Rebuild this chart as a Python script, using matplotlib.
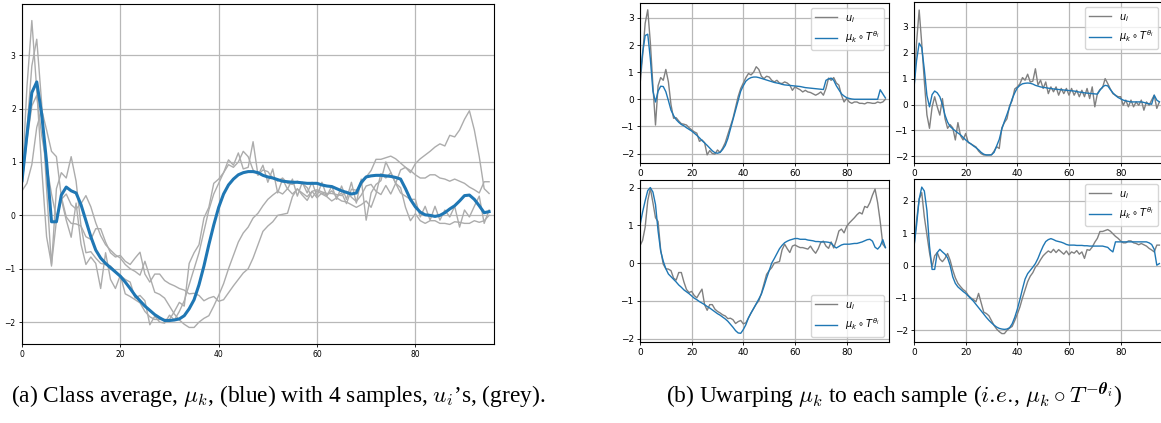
import numpy as np
import matplotlib
matplotlib.use("Agg")
import matplotlib.pyplot as plt

# sample index (time axis)
t = np.arange(96)

# four samples u_i (grey)
u1 = [0.52, 1.6, 2.8, 3.3, 2.1, 0.5, -0.95, 0.5, 0.8, 0.7,
      1.1, 0.64, -0.2, -0.7, -0.68, -0.8, -0.9, -0.92, -0.95, -1.05,
      -1.13, -1.2, -1.25, -1.55, -1.5, -1.6, -2.05, -1.89, -2.0, -2.02,
      -1.87, -1.96, -1.8, -1.6, -1.3, -1.0, -0.7, -0.3, 0.1, 0.4,
      0.6, 0.8, 0.95, 0.9, 1.0, 1.2, 1.1, 0.85, 0.76, 0.85,
      0.82, 0.7, 0.64, 0.7, 0.6, 0.58, 0.64, 0.6, 0.52, 0.33,
      0.46, 0.4, 0.35, 0.27, 0.33, 0.27, 0.25, 0.2, 0.15, 0.2,
      0.27, 0.15, 0.4, 0.78, 0.7, 0.8, 0.6, 0.52, 0.15, -0.1,
      0.03, -0.1, -0.15, -0.1, -0.1, -0.15, -0.15, -0.17, -0.12, -0.13,
      -0.15, -0.15, -0.1, -0.13, -0.1, 0.0]
u2 = [0.62, 2.4, 3.65, 2.35, 0.9, -0.4, -0.92, -0.1, 0.3, -0.09,
      -0.41, 0.23, -0.54, -0.92, -0.78, -0.9, -1.37, -0.7, -1.2, -1.37,
      -1.12, -1.47, -1.52, -1.58, -1.64, -1.8, -1.9, -1.95, -1.95, -1.95,
      -1.95, -1.8, -1.63, -1.7, -0.9, -0.7, -0.55, -0.05, 0.15, 0.6,
      0.68, 0.8, 1.04, 0.94, 1.17, 0.87, 0.9, 1.38, 0.75, 0.94,
      0.62, 0.87, 0.42, 0.68, 0.49, 0.68, 0.36, 0.62, 0.42, 0.62,
      0.36, 0.62, 0.36, 0.55, 0.3, 0.55, 0.3, 0.62, 0.23, 0.68,
      -0.09, 0.42, 0.58, 0.65, 1.0, 0.81, 0.6, 0.42, 0.36, 0.3,
      0.3, -0.03, 0.17, -0.09, 0.17, -0.09, 0.1, -0.03, 0.17, -0.22,
      0.1, -0.03, 0.17, 0.36, -0.15, 0.1]
u3 = [0.46, 0.6, 0.95, 1.65, 1.98, 1.6, 1.2, 1.1, 0.35, -0.03,
      -0.15, -0.16, -0.2, -0.4, -0.45, -0.25, -0.25, -0.5, -0.7, -0.78,
      -0.75, -0.86, -0.92, -0.8, -0.69, -1.1, -1.25, -1.1, -1.1, -1.22,
      -1.28, -1.32, -1.37, -1.4, -1.47, -1.46, -1.5, -1.6, -1.55, -1.52,
      -1.61, -1.58, -1.45, -1.32, -1.2, -1.08, -1.0, -0.8, -0.55, -0.3,
      -0.2, -0.12, 0.0, 0.02, 0.04, 0.35, 0.5, 0.38, 0.28, 0.45,
      0.48, 0.44, 0.41, 0.41, 0.39, 0.37, 0.45, 0.34, 0.26, 0.38,
      0.55, 0.58, 0.45, 0.39, 0.56, 0.4, 0.6, 0.85, 0.9, 0.8,
      0.97, 1.06, 1.13, 1.2, 1.28, 1.34, 1.3, 1.5, 1.47, 1.6,
      1.8, 1.96, 1.6, 1.1, 0.5, 0.41]
u4 = [0.6, 1.4, 2.05, 2.25, 1.5, 0.95, 0.4, -0.04, 0.3, 0.4,
      0.2, 0.12, 0.22, 0.37, 0.16, -0.14, -0.38, -0.55, -0.65, -0.74,
      -0.8, -0.92, -1.0, -1.05, -1.12, -0.86, -1.15, -1.44, -1.48, -1.55,
      -1.7, -1.85, -1.96, -2.04, -2.1, -2.1, -2.0, -1.93, -1.88, -1.7,
      -1.5, -1.28, -1.0, -0.75, -0.5, -0.33, -0.22, -0.05, 0.04, 0.18,
      0.3, 0.38, 0.45, 0.4, 0.5, 0.4, 0.49, 0.42, 0.35, 0.45,
      0.33, 0.42, 0.38, 0.46, 0.35, 0.42, 0.22, 0.49, 0.47, 0.57,
      0.72, 0.84, 1.05, 1.05, 1.08, 1.11, 1.06, 0.98, 0.9, 0.84,
      0.76, 0.7, 0.7, 0.76, 0.76, 0.7, 0.68, 0.64, 0.68, 0.64,
      0.6, 0.53, 0.48, 0.42, 0.63, 0.63]

# class average mu_k (blue, panel a)
mu = [0.65, 1.5, 2.3, 2.5, 1.9, 1.0, -0.12, -0.12, 0.38, 0.53,
      0.46, 0.42, 0.2, -0.1, -0.4, -0.65, -0.8, -0.9, -0.98, -1.06,
      -1.14, -1.25, -1.37, -1.5, -1.6, -1.7, -1.78, -1.86, -1.92, -1.97,
      -1.97, -1.96, -1.94, -1.88, -1.75, -1.58, -1.3, -0.95, -0.55, -0.18,
      0.15, 0.4, 0.57, 0.68, 0.76, 0.8, 0.82, 0.82, 0.8, 0.75,
      0.72, 0.7, 0.67, 0.64, 0.63, 0.62, 0.62, 0.61, 0.6, 0.6,
      0.6, 0.57, 0.55, 0.54, 0.5, 0.46, 0.43, 0.4, 0.42, 0.62,
      0.72, 0.74, 0.75, 0.75, 0.74, 0.73, 0.71, 0.68, 0.5, 0.3,
      0.16, 0.06, 0.01, 0.0, -0.02, 0.0, 0.05, 0.12, 0.18, 0.27,
      0.37, 0.38, 0.3, 0.18, 0.05, 0.07]

# mu_k warped to each sample (blue, panel b)
w1 = [0.8, 1.7, 2.35, 2.4, 1.5, 0.3, -0.1, 0.3, 0.48, 0.47,
      0.28, -0.05, -0.4, -0.6, -0.75, -0.85, -0.93, -0.98, -1.05, -1.11,
      -1.17, -1.25, -1.33, -1.42, -1.52, -1.61, -1.7, -1.8, -1.9, -1.97,
      -1.99, -1.96, -1.85, -1.7, -1.45, -1.1, -0.75, -0.4, -0.05, 0.3,
      0.5, 0.67, 0.75, 0.8, 0.82, 0.82, 0.8, 0.77, 0.74, 0.71,
      0.68, 0.65, 0.62, 0.6, 0.58, 0.55, 0.53, 0.52, 0.51, 0.5,
      0.49, 0.48, 0.47, 0.45, 0.43, 0.42, 0.41, 0.4, 0.39, 0.38,
      0.37, 0.36, 0.7, 0.75, 0.78, 0.7, 0.5, 0.35, 0.2, 0.12,
      0.06, 0.03, 0.01, 0.0, 0.0, 0.0, 0.0, 0.0, 0.0, 0.0,
      0.0, 0.0, 0.0, 0.35, 0.2, 0.05]
w2 = [0.65, 1.7, 2.37, 2.2, 1.35, 0.35, -0.09, 0.38, 0.52, 0.45,
      0.3, 0.0, -0.41, -0.68, -0.85, -0.94, -1.02, -1.1, -1.17, -1.27,
      -1.37, -1.45, -1.52, -1.6, -1.67, -1.75, -1.85, -1.92, -1.95, -1.95,
      -1.94, -1.85, -1.6, -1.35, -0.95, -0.65, -0.38, -0.1, 0.22, 0.45,
      0.64, 0.74, 0.8, 0.82, 0.83, 0.82, 0.79, 0.74, 0.71, 0.68,
      0.66, 0.65, 0.63, 0.62, 0.6, 0.59, 0.58, 0.57, 0.56, 0.55,
      0.54, 0.53, 0.52, 0.5, 0.48, 0.47, 0.45, 0.44, 0.43, 0.42,
      0.41, 0.4, 0.55, 0.68, 0.74, 0.72, 0.58, 0.45, 0.35, 0.27,
      0.22, 0.17, 0.14, 0.12, 0.1, 0.1, 0.1, 0.1, 0.1, 0.08,
      0.05, 0.03, 0.01, 0.36, 0.17, 0.1]
w3 = [1.0, 1.35, 1.65, 1.92, 2.0, 1.88, 1.55, 0.85, 0.32, 0.05,
      -0.15, -0.29, -0.36, -0.43, -0.5, -0.58, -0.64, -0.71, -0.76, -0.81,
      -0.87, -0.93, -0.97, -1.02, -1.06, -1.1, -1.15, -1.19, -1.24, -1.29,
      -1.34, -1.38, -1.43, -1.48, -1.54, -1.62, -1.7, -1.79, -1.85, -1.86,
      -1.76, -1.63, -1.45, -1.32, -1.2, -1.08, -0.95, -0.82, -0.62, -0.4,
      -0.2, 0.0, 0.12, 0.25, 0.38, 0.47, 0.54, 0.58, 0.61, 0.63,
      0.65, 0.65, 0.63, 0.63, 0.63, 0.61, 0.6, 0.59, 0.57, 0.57,
      0.56, 0.56, 0.56, 0.55, 0.53, 0.45, 0.4, 0.44, 0.48, 0.5,
      0.5, 0.5, 0.51, 0.52, 0.52, 0.54, 0.56, 0.59, 0.62, 0.63,
      0.58, 0.42, 0.37, 0.45, 0.62, 0.41]
w4 = [0.58, 1.25, 2.05, 2.42, 2.3, 1.7, 0.6, -0.12, -0.12, 0.4,
      0.5, 0.42, 0.35, 0.24, 0.0, -0.35, -0.55, -0.66, -0.73, -0.8,
      -0.86, -0.94, -1.02, -1.1, -1.2, -1.3, -1.4, -1.5, -1.6, -1.69,
      -1.77, -1.84, -1.9, -1.94, -1.96, -1.97, -1.96, -1.92, -1.8, -1.6,
      -1.35, -1.05, -0.72, -0.42, -0.25, -0.15, -0.05, 0.06, 0.22, 0.42,
      0.6, 0.74, 0.8, 0.83, 0.8, 0.76, 0.74, 0.72, 0.69, 0.65,
      0.63, 0.63, 0.63, 0.62, 0.62, 0.62, 0.61, 0.61, 0.6, 0.6,
      0.6, 0.6, 0.6, 0.6, 0.58, 0.56, 0.48, 0.42, 0.73, 0.73,
      0.73, 0.73, 0.73, 0.73, 0.73, 0.73, 0.73, 0.73, 0.73, 0.73,
      0.73, 0.7, 0.65, 0.5, 0.01, 0.06]

samples = [u1, u2, u3, u4]
warped = [w1, w2, w3, w4]

BLUE = "#1f77b4"
W, H = 1161, 423


def px_axes(fig, left, top, right, bottom):
    # axes box from pixel edges of the reference image
    return fig.add_axes([left / W, 1 - bottom / H, (right - left) / W, (bottom - top) / H])


fig = plt.figure(figsize=(W / 100, H / 100), dpi=100)

# ---- (a) class average with the four samples
ax = px_axes(fig, 22, 4, 494, 344)
for u in samples:
    ax.plot(t, u, color="#acacac", lw=1.0)
ax.plot(t, mu, color=BLUE, lw=2.2)
ax.set_xlim(0, 96)
ax.set_ylim(-2.41, 3.96)
ax.set_xticks([0, 20, 40, 60, 80])
ax.set_yticks([-2, -1, 0, 1, 2, 3])
ax.grid(True, color="#b8b8b8", lw=0.9)
ax.tick_params(labelsize=5.5, length=2.5, width=0.6, pad=2)

# ---- (b) warped average against each sample
boxes = [(640, 3, 889, 163), (914, 2, 1163, 163),
         (640, 180, 889, 342), (914, 179, 1163, 342)]
ylims = [(-2.35, 3.55), (-2.26, 3.96), (-2.09, 2.2), (-2.36, 2.67)]
leg_loc = ["upper right", "upper right", "lower right", "upper right"]

for i in range(4):
    a = px_axes(fig, *boxes[i])
    a.plot(t, samples[i], color="#808080", lw=1.0, label=r"$u_i$")
    a.plot(t, warped[i], color=BLUE, lw=1.0, label=r"$\mu_k \circ T^{\theta_i}$")
    a.set_xlim(0, 96.4)
    a.set_ylim(*ylims[i])
    a.set_xticks([0, 20, 40, 60, 80])
    a.grid(True, color="#b8b8b8", lw=0.9)
    a.tick_params(labelsize=6.5, length=2.5, width=0.6, pad=2)
    a.legend(loc=leg_loc[i], fontsize=7, handlelength=2.2, borderpad=0.5,
             labelspacing=0.5, framealpha=0.8)

# ---- captions
cap_a = r"(a) Class average, $\mu_k$, (blue) with 4 samples, $u_i$’s, (grey)."
cap_b = (r"(b) Uwarping $\mu_k$ to each sample ($i.\!e.\!$, "
         r"$\mu_k \circ T^{-\boldsymbol{\theta}_i}$)")
fig.text(278 / W, 1 - 396 / H, cap_a, ha="center", va="center", fontsize=16.8,
         family="Liberation Serif", math_fontfamily="cm")
fig.text(894 / W, 1 - 396 / H, cap_b, ha="center", va="center", fontsize=16.8,
         family="Liberation Serif", math_fontfamily="cm")

fig.savefig("out.png", dpi=100)
